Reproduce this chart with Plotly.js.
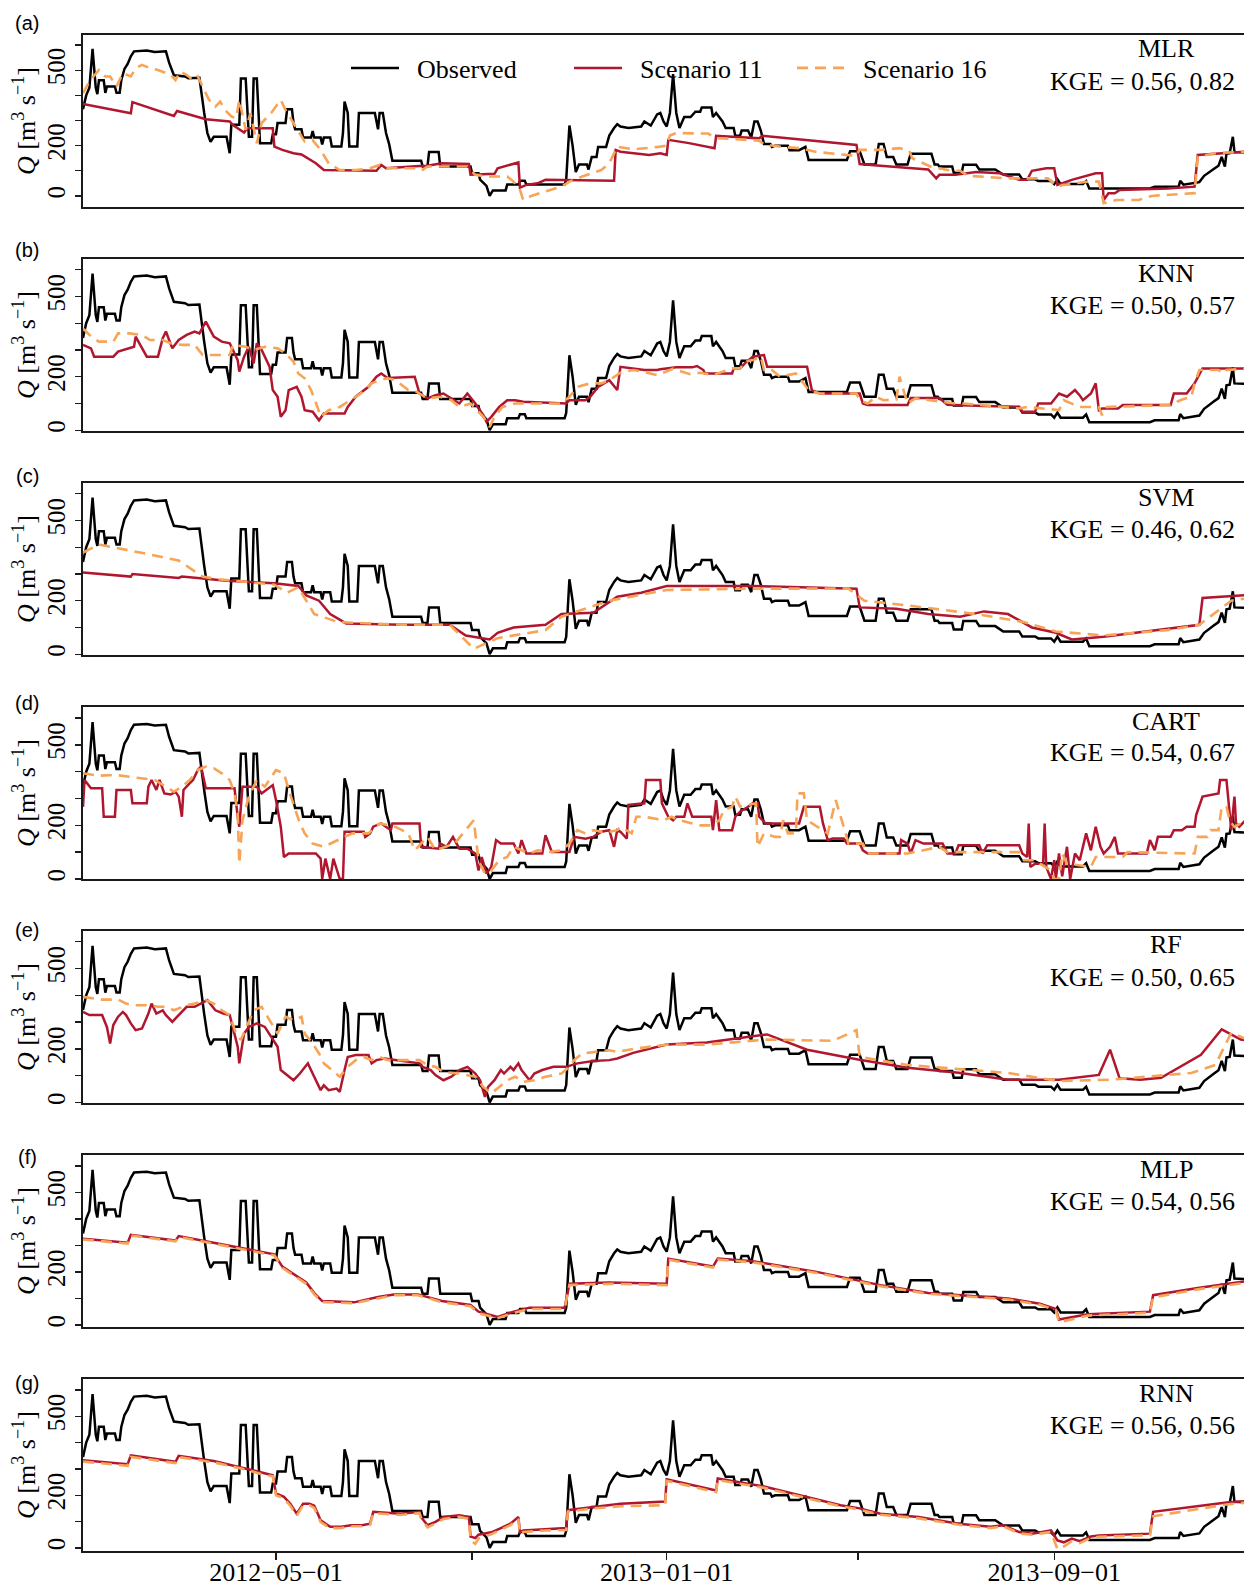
<!DOCTYPE html>
<html><head><meta charset="utf-8">
<script src="https://cdn.plot.ly/plotly-3.0.1.min.js"></script>
<style>html,body{margin:0;padding:0;background:#fff;overflow:hidden}</style>
</head><body><div id="chart" style="width:1252px;height:1581px"></div>
<script>
// ---- DATA: [day since 2012-01-01, Q (m3/s)] ----
const observed = [[0,345],[2,400],[4,430],[6,585],[8,430],[9,405],[10,460],[13,460],[14,410],[15,435],[20,435],[21,410],[23,410],[24,460],[26,505],[28,525],[30,555],[32,575],[40,578],[45,572],[52,575],[54,530],[57,480],[64,475],[66,468],[73,470],[76,330],[78,250],[80,215],[82,235],[90,235],[92,170],[93,283],[98,283],[99,467],[102,467],[104,235],[106,235],[107,467],[109,467],[111,210],[118,210],[119,245],[121,245],[122,290],[127,290],[128,345],[131,345],[132,290],[133,265],[137,265],[138,232],[143,232],[144,258],[145,232],[149,232],[150,205],[151,232],[155,232],[156,197],[162,197],[163,250],[164,375],[166,330],[167,197],[172,197],[173,330],[183,330],[185,265],[186,330],[188,330],[190,250],[192,205],[194,140],[212,140],[213,117],[216,117],[217,175],[223,175],[224,117],[243,117],[244,90],[248,90],[249,65],[253,40],[255,0],[257,22],[265,22],[266,45],[273,45],[274,60],[277,60],[278,45],[302,45],[303,65],[305,280],[307,200],[309,95],[311,125],[316,125],[317,105],[319,155],[322,155],[323,195],[328,195],[330,240],[333,270],[335,285],[337,276],[342,270],[350,276],[352,296],[356,280],[360,324],[362,330],[364,296],[366,276],[368,330],[370,485],[372,330],[374,270],[377,314],[381,314],[384,335],[387,335],[388,352],[394,352],[395,314],[397,330],[401,296],[403,270],[408,270],[409,239],[412,239],[413,260],[417,260],[419,232],[421,296],[423,296],[425,260],[427,207],[431,207],[432,195],[434,200],[442,200],[443,182],[449,182],[453,195],[455,143],[479,143],[481,178],[487,178],[490,125],[497,125],[499,207],[502,207],[504,155],[508,155],[510,125],[517,125],[519,168],[532,168],[534,125],[536,125],[537,117],[545,117],[546,92],[551,92],[552,124],[560,124],[562,105],[572,105],[577,85],[587,85],[589,66],[597,66],[599,59],[607,59],[609,47],[611,66],[613,47],[627,47],[629,59],[631,30],[669,30],[672,37],[687,37],[688,60],[690,45],[700,55],[703,80],[706,95],[709,107],[712,120],[714,155],[716,117],[717,168],[719,170],[721,235],[722,175],[733,172]];

const mlr11 = [[0,366],[30,329],[31,373],[57,318],[59,338],[77,305],[92,296],[94,282],[101,252],[103,269],[119,269],[120,196],[125,183],[132,170],[137,165],[141,150],[146,130],[151,103],[171,103],[184,100],[187,123],[190,110],[211,119],[215,119],[225,130],[238,130],[242,127],[243,84],[258,88],[260,110],[270,130],[273,133],[274,33],[278,44],[285,50],[290,64],[333,60],[334,183],[337,176],[345,170],[355,163],[362,170],[366,163],[367,223],[380,210],[396,190],[397,239],[424,229],[426,239],[485,203],[487,127],[500,120],[517,113],[530,105],[535,70],[537,84],[547,84],[560,95],[575,90],[587,64],[592,64],[595,100],[604,110],[609,110],[611,44],[620,64],[635,90],[639,90],[640,-16],[643,11],[647,11],[650,24],[680,30],[697,37],[699,163],[733,178]];
const mlr16 = [[0,408],[4,455],[10,501],[14,475],[17,475],[21,435],[25,488],[30,475],[33,508],[37,521],[42,508],[47,501],[55,481],[58,461],[61,495],[65,481],[69,461],[72,475],[75,435],[79,382],[83,355],[86,375],[89,342],[93,316],[96,310],[98,382],[102,263],[105,329],[109,210],[112,290],[118,330],[124,382],[127,342],[132,290],[135,263],[139,216],[144,222],[149,183],[154,130],[161,103],[171,103],[180,110],[186,123],[191,110],[208,110],[212,100],[216,117],[225,117],[241,117],[246,84],[253,77],[266,77],[270,57],[274,24],[276,-16],[281,0],[286,11],[293,24],[300,37],[305,57],[313,77],[325,103],[330,130],[335,196],[345,185],[355,190],[362,196],[366,200],[368,240],[372,250],[380,250],[392,248],[397,230],[410,225],[424,220],[427,205],[438,195],[449,190],[460,175],[475,165],[485,160],[487,183],[500,183],[512,190],[518,180],[520,150],[532,115],[545,100],[550,100],[555,80],[580,70],[590,70],[605,70],[611,37],[615,44],[630,57],[637,57],[640,-29],[648,-16],[662,-16],[670,0],[697,11],[699,156],[710,170],[733,178]];

const knn11 = [[0,319],[5,306],[7,275],[19,275],[22,294],[32,312],[33,350],[37,306],[40,275],[47,275],[50,344],[52,369],[56,306],[60,337],[65,356],[70,369],[73,362],[77,406],[82,350],[87,331],[92,325],[94,300],[97,262],[98,219],[101,275],[104,312],[107,250],[109,325],[112,300],[114,275],[117,237],[119,150],[122,125],[124,50],[127,75],[129,150],[134,162],[137,125],[139,75],[144,69],[148,37],[151,62],[164,62],[166,87],[171,125],[179,162],[184,200],[187,212],[191,195],[208,200],[211,137],[216,119],[221,131],[226,137],[231,119],[236,100],[241,137],[246,100],[251,56],[253,31],[256,50],[261,87],[266,112],[271,112],[276,106],[303,100],[305,112],[315,112],[318,125],[323,162],[330,187],[335,150],[337,237],[345,230],[352,225],[360,225],[362,228],[372,235],[382,235],[385,240],[389,225],[390,212],[407,212],[408,231],[412,231],[415,250],[420,275],[427,281],[429,237],[454,237],[457,150],[462,137],[487,137],[489,100],[492,94],[517,94],[519,120],[537,120],[542,95],[565,90],[587,88],[589,69],[597,69],[599,100],[607,100],[612,137],[617,125],[622,150],[625,130],[627,112],[632,137],[635,175],[637,75],[639,81],[649,81],[652,94],[682,94],[684,137],[692,137],[697,175],[702,231],[733,231]];
const knn16 = [[0,381],[5,350],[10,331],[19,331],[22,362],[29,362],[37,356],[42,337],[50,337],[55,325],[62,319],[70,319],[75,281],[92,281],[94,319],[102,312],[107,300],[114,312],[122,306],[127,287],[132,256],[135,212],[139,194],[143,150],[147,87],[149,50],[154,75],[161,87],[166,106],[174,137],[181,175],[186,187],[191,194],[196,187],[204,150],[209,144],[216,119],[224,125],[231,112],[236,87],[243,100],[251,50],[255,12],[258,50],[263,87],[271,100],[300,100],[305,125],[310,162],[318,175],[325,175],[330,187],[337,215],[345,225],[350,220],[360,206],[370,230],[380,210],[387,215],[395,206],[407,231],[412,231],[415,256],[420,262],[425,275],[427,225],[432,225],[437,200],[447,212],[450,187],[455,150],[462,137],[485,137],[487,112],[492,100],[497,125],[502,112],[510,115],[512,200],[517,100],[522,119],[547,100],[552,100],[587,81],[592,87],[612,75],[615,112],[625,87],[637,87],[639,56],[642,87],[682,94],[688,112],[695,125],[697,175],[700,225],[712,225],[715,212],[717,225],[733,231]];

const svm11 = [[0,305],[30,290],[31,300],[60,285],[62,290],[90,275],[120,265],[135,255],[140,220],[148,200],[155,150],[165,115],[200,110],[230,110],[240,70],[255,55],[260,80],[270,100],[290,110],[300,150],[320,155],[335,215],[350,230],[366,255],[420,255],[485,245],[487,175],[510,170],[530,150],[550,140],[565,160],[580,150],[595,100],[610,80],[620,55],[640,65],[660,80],[680,95],[700,110],[702,210],[733,222]];
const svm16 = [[0,380],[10,410],[40,375],[60,350],[75,290],[85,280],[120,260],[128,230],[135,250],[145,150],[160,120],[200,110],[230,110],[245,20],[260,60],[290,90],[300,140],[330,200],[366,240],[420,245],[480,245],[490,200],[520,180],[560,150],[590,120],[610,85],[640,70],[680,90],[700,110],[720,200],[733,212]];

const cart11 = [[0,269],[1,369],[5,338],[12,338],[13,232],[20,232],[21,332],[30,332],[31,282],[40,282],[41,344],[43,369],[46,332],[48,369],[51,319],[55,315],[58,325],[60,307],[62,232],[63,332],[67,357],[69,369],[72,406],[74,419],[77,338],[95,338],[97,232],[98,195],[100,344],[109,344],[112,319],[119,350],[121,294],[124,195],[126,82],[129,95],[146,95],[149,76],[150,0],[152,76],[155,0],[157,76],[161,0],[163,0],[164,176],[176,176],[177,157],[180,170],[182,195],[187,207],[193,182],[194,207],[211,207],[212,120],[223,113],[224,132],[228,120],[232,157],[236,113],[241,113],[246,95],[248,32],[250,82],[253,20],[256,45],[259,145],[262,132],[270,132],[273,95],[275,145],[278,95],[288,95],[290,163],[294,101],[305,101],[308,157],[315,150],[320,157],[325,176],[330,182],[333,120],[335,182],[337,176],[341,150],[342,276],[352,282],[353,369],[362,369],[363,282],[367,232],[370,219],[372,232],[377,232],[379,282],[382,232],[394,232],[395,182],[397,294],[399,182],[407,182],[409,232],[412,251],[417,269],[420,282],[423,282],[424,232],[428,207],[449,207],[452,269],[462,269],[464,207],[467,145],[470,151],[477,151],[479,132],[487,132],[489,107],[492,95],[512,95],[513,145],[517,132],[519,95],[522,145],[527,132],[539,132],[542,95],[547,95],[549,126],[562,126],[564,95],[567,126],[587,126],[589,95],[592,82],[593,207],[594,45],[597,57],[602,57],[603,207],[604,45],[607,0],[609,70],[610,0],[612,95],[614,10],[617,120],[619,0],[622,95],[625,70],[629,170],[632,107],[635,195],[638,120],[640,95],[644,120],[647,157],[649,95],[667,95],[669,145],[672,107],[674,157],[682,157],[684,182],[689,182],[692,195],[697,195],[698,238],[702,307],[712,319],[713,369],[717,369],[718,307],[720,182],[722,307],[723,207],[725,195],[729,219],[733,215]];
const cart16 = [[0,394],[10,385],[20,388],[30,380],[37,376],[45,369],[52,344],[57,325],[62,344],[67,369],[72,406],[77,419],[82,413],[87,394],[92,369],[95,319],[97,244],[98,57],[100,219],[104,307],[109,369],[114,344],[121,406],[126,394],[129,332],[133,257],[136,207],[139,170],[144,132],[151,120],[159,144],[164,157],[169,170],[179,170],[186,207],[196,194],[204,170],[208,107],[216,157],[221,107],[233,132],[245,219],[248,70],[252,20],[256,32],[261,70],[266,82],[270,120],[280,95],[285,107],[293,101],[300,107],[305,132],[310,182],[315,170],[320,182],[325,176],[330,176],[335,182],[337,194],[344,170],[347,232],[352,232],[364,219],[369,232],[374,219],[382,207],[387,200],[394,200],[399,219],[402,257],[407,269],[409,307],[412,270],[422,282],[423,120],[427,170],[434,157],[437,157],[439,219],[442,170],[447,170],[448,319],[452,319],[454,219],[467,170],[472,294],[474,257],[477,194],[480,132],[489,132],[492,95],[517,95],[527,107],[537,120],[542,100],[587,100],[590,70],[597,70],[600,57],[607,32],[609,0],[612,0],[614,95],[617,57],[632,45],[635,82],[652,82],[655,100],[697,95],[699,157],[705,157],[707,182],[712,182],[714,269],[717,269],[719,219],[722,194],[733,232]];

const rf11 = [[0,338],[4,326],[12,326],[15,282],[17,220],[19,289],[22,320],[25,338],[27,326],[30,295],[33,270],[37,276],[41,332],[43,369],[46,332],[50,344],[52,326],[56,301],[60,326],[65,357],[70,357],[74,369],[78,382],[83,344],[88,332],[92,326],[94,282],[97,208],[98,146],[101,257],[104,282],[109,295],[114,282],[119,233],[122,208],[124,121],[127,108],[132,83],[136,108],[141,146],[144,108],[146,83],[149,46],[151,64],[154,46],[159,52],[161,40],[164,121],[166,170],[171,177],[179,177],[181,146],[184,158],[189,164],[196,158],[201,152],[211,146],[213,133],[218,121],[221,102],[226,83],[231,96],[236,121],[241,133],[246,108],[249,83],[252,21],[254,58],[258,83],[262,121],[264,108],[268,133],[270,121],[273,146],[275,121],[280,83],[283,108],[288,121],[295,133],[303,133],[310,146],[320,155],[330,158],[335,164],[345,185],[366,216],[391,224],[429,254],[454,197],[486,160],[517,130],[549,111],[580,85],[612,85],[637,103],[644,197],[650,90],[663,85],[676,92],[701,178],[714,273],[726,235],[733,228]];
const rf16 = [[0,394],[7,388],[12,384],[22,384],[27,369],[32,363],[42,363],[47,357],[52,357],[57,344],[65,363],[70,369],[77,382],[82,369],[87,344],[92,326],[96,257],[99,233],[107,344],[112,357],[117,307],[122,257],[127,320],[132,307],[137,320],[139,257],[144,220],[148,183],[151,146],[156,121],[161,96],[166,133],[171,158],[176,170],[181,158],[186,170],[191,158],[211,158],[216,139],[221,133],[226,114],[236,108],[246,96],[251,58],[256,34],[261,58],[266,83],[271,96],[276,77],[283,83],[290,96],[295,102],[300,108],[305,133],[308,158],[313,183],[320,189],[330,195],[335,189],[345,200],[366,216],[391,216],[429,235],[470,230],[485,270],[487,170],[517,140],[580,110],[612,80],[644,85],[675,100],[695,110],[710,140],[720,260],[733,228]];

const mlp11 = [[0,325],[28,310],[30,340],[58,318],[60,335],[90,300],[120,266],[125,220],[130,200],[140,160],[145,120],[150,90],[170,85],[185,105],[195,115],[210,115],[225,90],[243,75],[248,50],[260,30],[270,50],[280,65],[302,65],[305,155],[330,160],[366,155],[367,250],[395,220],[398,250],[420,240],[460,200],[500,150],[530,120],[580,100],[600,80],[610,60],[612,20],[630,40],[669,50],[671,112],[700,140],[733,168]];
const mlp16 = [[0,322],[28,307],[30,337],[58,315],[60,332],[90,297],[120,262],[125,215],[130,195],[140,155],[145,115],[150,86],[170,82],[185,100],[195,112],[210,112],[225,86],[243,70],[248,44],[260,25],[270,45],[280,60],[302,60],[305,150],[330,155],[366,150],[367,246],[395,216],[398,246],[420,236],[460,196],[500,146],[530,117],[580,96],[600,76],[610,55],[612,10],[630,35],[669,46],[671,104],[700,135],[733,162]];

const rnn11 = [[0,333],[28,318],[30,352],[58,327],[60,350],[82,330],[103,300],[112,285],[119,276],[121,207],[126,194],[130,168],[134,130],[138,168],[142,168],[145,160],[149,105],[155,80],[162,80],[168,86],[175,86],[180,92],[182,137],[199,130],[211,137],[212,117],[216,86],[221,99],[226,117],[236,124],[242,117],[243,43],[246,37],[248,50],[256,59],[261,72],[268,92],[273,117],[274,60],[276,66],[290,72],[303,75],[304,143],[320,155],[337,168],[365,176],[366,261],[397,218],[398,264],[427,233],[450,200],[475,162],[487,150],[500,130],[524,117],[549,92],[569,80],[577,86],[587,60],[595,54],[607,66],[611,28],[615,21],[620,35],[625,25],[632,43],[637,47],[669,54],[671,137],[717,172],[733,180]];
const rnn16 = [[0,328],[28,312],[30,346],[58,322],[60,345],[82,325],[103,296],[112,280],[119,272],[121,200],[126,188],[130,160],[134,122],[138,162],[142,162],[145,152],[149,98],[155,75],[162,75],[168,82],[175,82],[180,88],[182,132],[199,125],[211,132],[212,112],[216,78],[221,92],[226,110],[236,118],[242,110],[243,30],[246,15],[248,35],[256,52],[261,66],[268,86],[273,110],[274,52],[276,60],[290,66],[303,68],[304,138],[320,150],[337,158],[365,162],[366,255],[397,212],[398,258],[427,228],[450,195],[475,158],[487,145],[500,126],[524,112],[549,88],[569,75],[577,82],[587,55],[595,50],[607,60],[611,-5],[615,5],[620,25],[625,18],[632,38],[637,42],[669,48],[671,120],[717,165],[733,174]];

const seriesNames = ['Observed','Scenario 11','Scenario 16'];
const panelTags = ['(a)','(b)','(c)','(d)','(e)','(f)','(g)'];
const modelNames = ['MLR','KNN','SVM','CART','RF','MLP','RNN'];
const kgeLabels = ['KGE = 0.56, 0.82','KGE = 0.50, 0.57','KGE = 0.46, 0.62','KGE = 0.54, 0.67','KGE = 0.50, 0.65','KGE = 0.54, 0.56','KGE = 0.56, 0.56'];
const scen11 = [mlr11, knn11, svm11, cart11, rf11, mlp11, rnn11];
const scen16 = [mlr16, knn16, svm16, cart16, rf16, mlp16, rnn16];
const yRanges = [[-44,640],[-3,640],[-3,640],[0,641],[-2,640],[-8,641],[-12,642]];
const xLabelDates = ['2012-05-01','2013-01-01','2013-09-01'];
const xLabelText = ['2012\u221205\u221201','2013\u221201\u221201','2013\u221209\u221201'];
const xMinorDates = ['2012-09-01','2013-05-01'];
const yLabelVals = [0,200,500];
const yMinorVals = [100,300,400,600];

// ---- helpers ----
const T0 = Date.UTC(2012,0,1);
const toDate = d => new Date(T0 + d*86400000).toISOString().slice(0,10);
const xs = arr => arr.map(p => toDate(p[0]));
const ys = arr => arr.map(p => p[1]);
const pad = s => '\u00a0\u00a0' + s;   // small gap between legend line and its label

// layout geometry (pixels); the figure is a little wider than the window, so its right edge is cut off as in the source
const W = 1252, H = 1581, ML = 83, MB = 30, PH = H - MB;
const PW = W - ML;
const px = x => (x - ML) / PW;
const py = y => (PH - y) / PH;
const panelTop = i => 35 + 224*i;
const panelBot = i => 207 + 224*i;
const xEndDay = PW / 1.5948;

const SERIF = 'Liberation Serif, Times New Roman, serif';
const C_OBS = '#000000', C_11 = '#B0172F', C_16 = '#F7A457';
const AX = '#1a1a1a';

const traces = [];
const layout = {
  width: W, height: H,
  margin: {l: ML, r: 0, t: 0, b: MB, pad: 0},
  paper_bgcolor: '#fff', plot_bgcolor: '#fff',
  font: {family: SERIF, size: 25, color: '#000'},
  showlegend: true,
  legend: {orientation: 'h', x: px(346), xanchor: 'left', y: py(68), yanchor: 'middle',
           font: {family: SERIF, size: 26, color: '#000'}, bgcolor: 'rgba(0,0,0,0)',
           entrywidth: 160, entrywidthmode: 'pixels', itemwidth: 48, traceorder: 'normal'},
  annotations: []
};

for (let i = 0; i < 7; i++) {
  const sfx = i === 0 ? '' : String(i+1);
  const xa = 'x' + sfx, ya = 'y' + sfx;
  const first = i === 0;
  traces.push({x: xs(observed), y: ys(observed), xaxis: xa, yaxis: ya, mode: 'lines', name: pad(seriesNames[0]),
               legendgroup: 'obs', showlegend: first, line: {color: C_OBS, width: 2.5}});
  traces.push({x: xs(scen11[i]), y: ys(scen11[i]), xaxis: xa, yaxis: ya, mode: 'lines', name: pad(seriesNames[1]),
               legendgroup: 's11', showlegend: first, line: {color: C_11, width: 2.5}});
  traces.push({x: xs(scen16[i]), y: ys(scen16[i]), xaxis: xa, yaxis: ya, mode: 'lines', name: pad(seriesNames[2]),
               legendgroup: 's16', showlegend: first, line: {color: C_16, width: 2.6, dash: '11px,7px'}});

  const bottom = i === 6;
  const xax = {
    domain: [0, 1], anchor: ya, range: [toDate(0), new Date(T0 + xEndDay*86400000).toISOString()], type: 'date',
    showgrid: false, zeroline: false, showline: true, mirror: true, linecolor: AX, linewidth: 1.6,
    ticks: bottom ? 'outside' : '', ticklen: 7, tickwidth: 1.4, tickcolor: AX,
    tickmode: 'array', tickvals: xLabelDates, ticktext: xLabelText,
    showticklabels: bottom, tickfont: {family: SERIF, size: 26, color: '#000'}, ticklabelstandoff: -10,
    minor: {tickmode: 'array', tickvals: xMinorDates, ticks: bottom ? 'outside' : '', ticklen: 7, tickwidth: 1.4, tickcolor: AX, showgrid: false}
  };
  if (i > 0) xax.matches = 'x';
  layout['xaxis' + sfx] = xax;
  layout['yaxis' + sfx] = {
    domain: [py(panelBot(i)), py(panelTop(i))], anchor: xa, range: yRanges[i],
    showgrid: false, zeroline: false, showline: true, mirror: true, linecolor: AX, linewidth: 1.6,
    ticks: 'outside', ticklen: 6, tickwidth: 1.4, tickcolor: AX,
    tickmode: 'array', tickvals: yLabelVals, tickangle: -90,
    tickfont: {family: SERIF, size: 25, color: '#000'},
    minor: {tickmode: 'array', tickvals: yMinorVals, ticks: 'outside', ticklen: 6, tickwidth: 1.4, tickcolor: AX, showgrid: false},
    title: {text: '<i>Q</i> [m<sup>3</sup> s<sup>\u22121</sup>]', font: {family: SERIF, size: 26, color: '#000'}, standoff: 0}
  };
  layout.annotations.push({text: panelTags[i], xref: 'paper', yref: 'paper', x: px(27), y: py(23 + 226.7*i),
    xanchor: 'center', yanchor: 'middle', showarrow: false, font: {family: 'Liberation Sans, Arial, sans-serif', size: 20, color: '#000'}});
  layout.annotations.push({text: modelNames[i], xref: 'paper', yref: 'paper', x: px(1166), y: py(panelTop(i) + 14),
    xanchor: 'center', yanchor: 'middle', showarrow: false, font: {family: SERIF, size: 26, color: '#000'}});
  layout.annotations.push({text: kgeLabels[i], xref: 'paper', yref: 'paper', x: px(1142), y: py(panelTop(i) + 46),
    xanchor: 'center', yanchor: 'middle', showarrow: false, font: {family: SERIF, size: 26, color: '#000'}});
}

Plotly.newPlot('chart', traces, layout, {displayModeBar: false, staticPlot: true});
</script>
</body></html>
